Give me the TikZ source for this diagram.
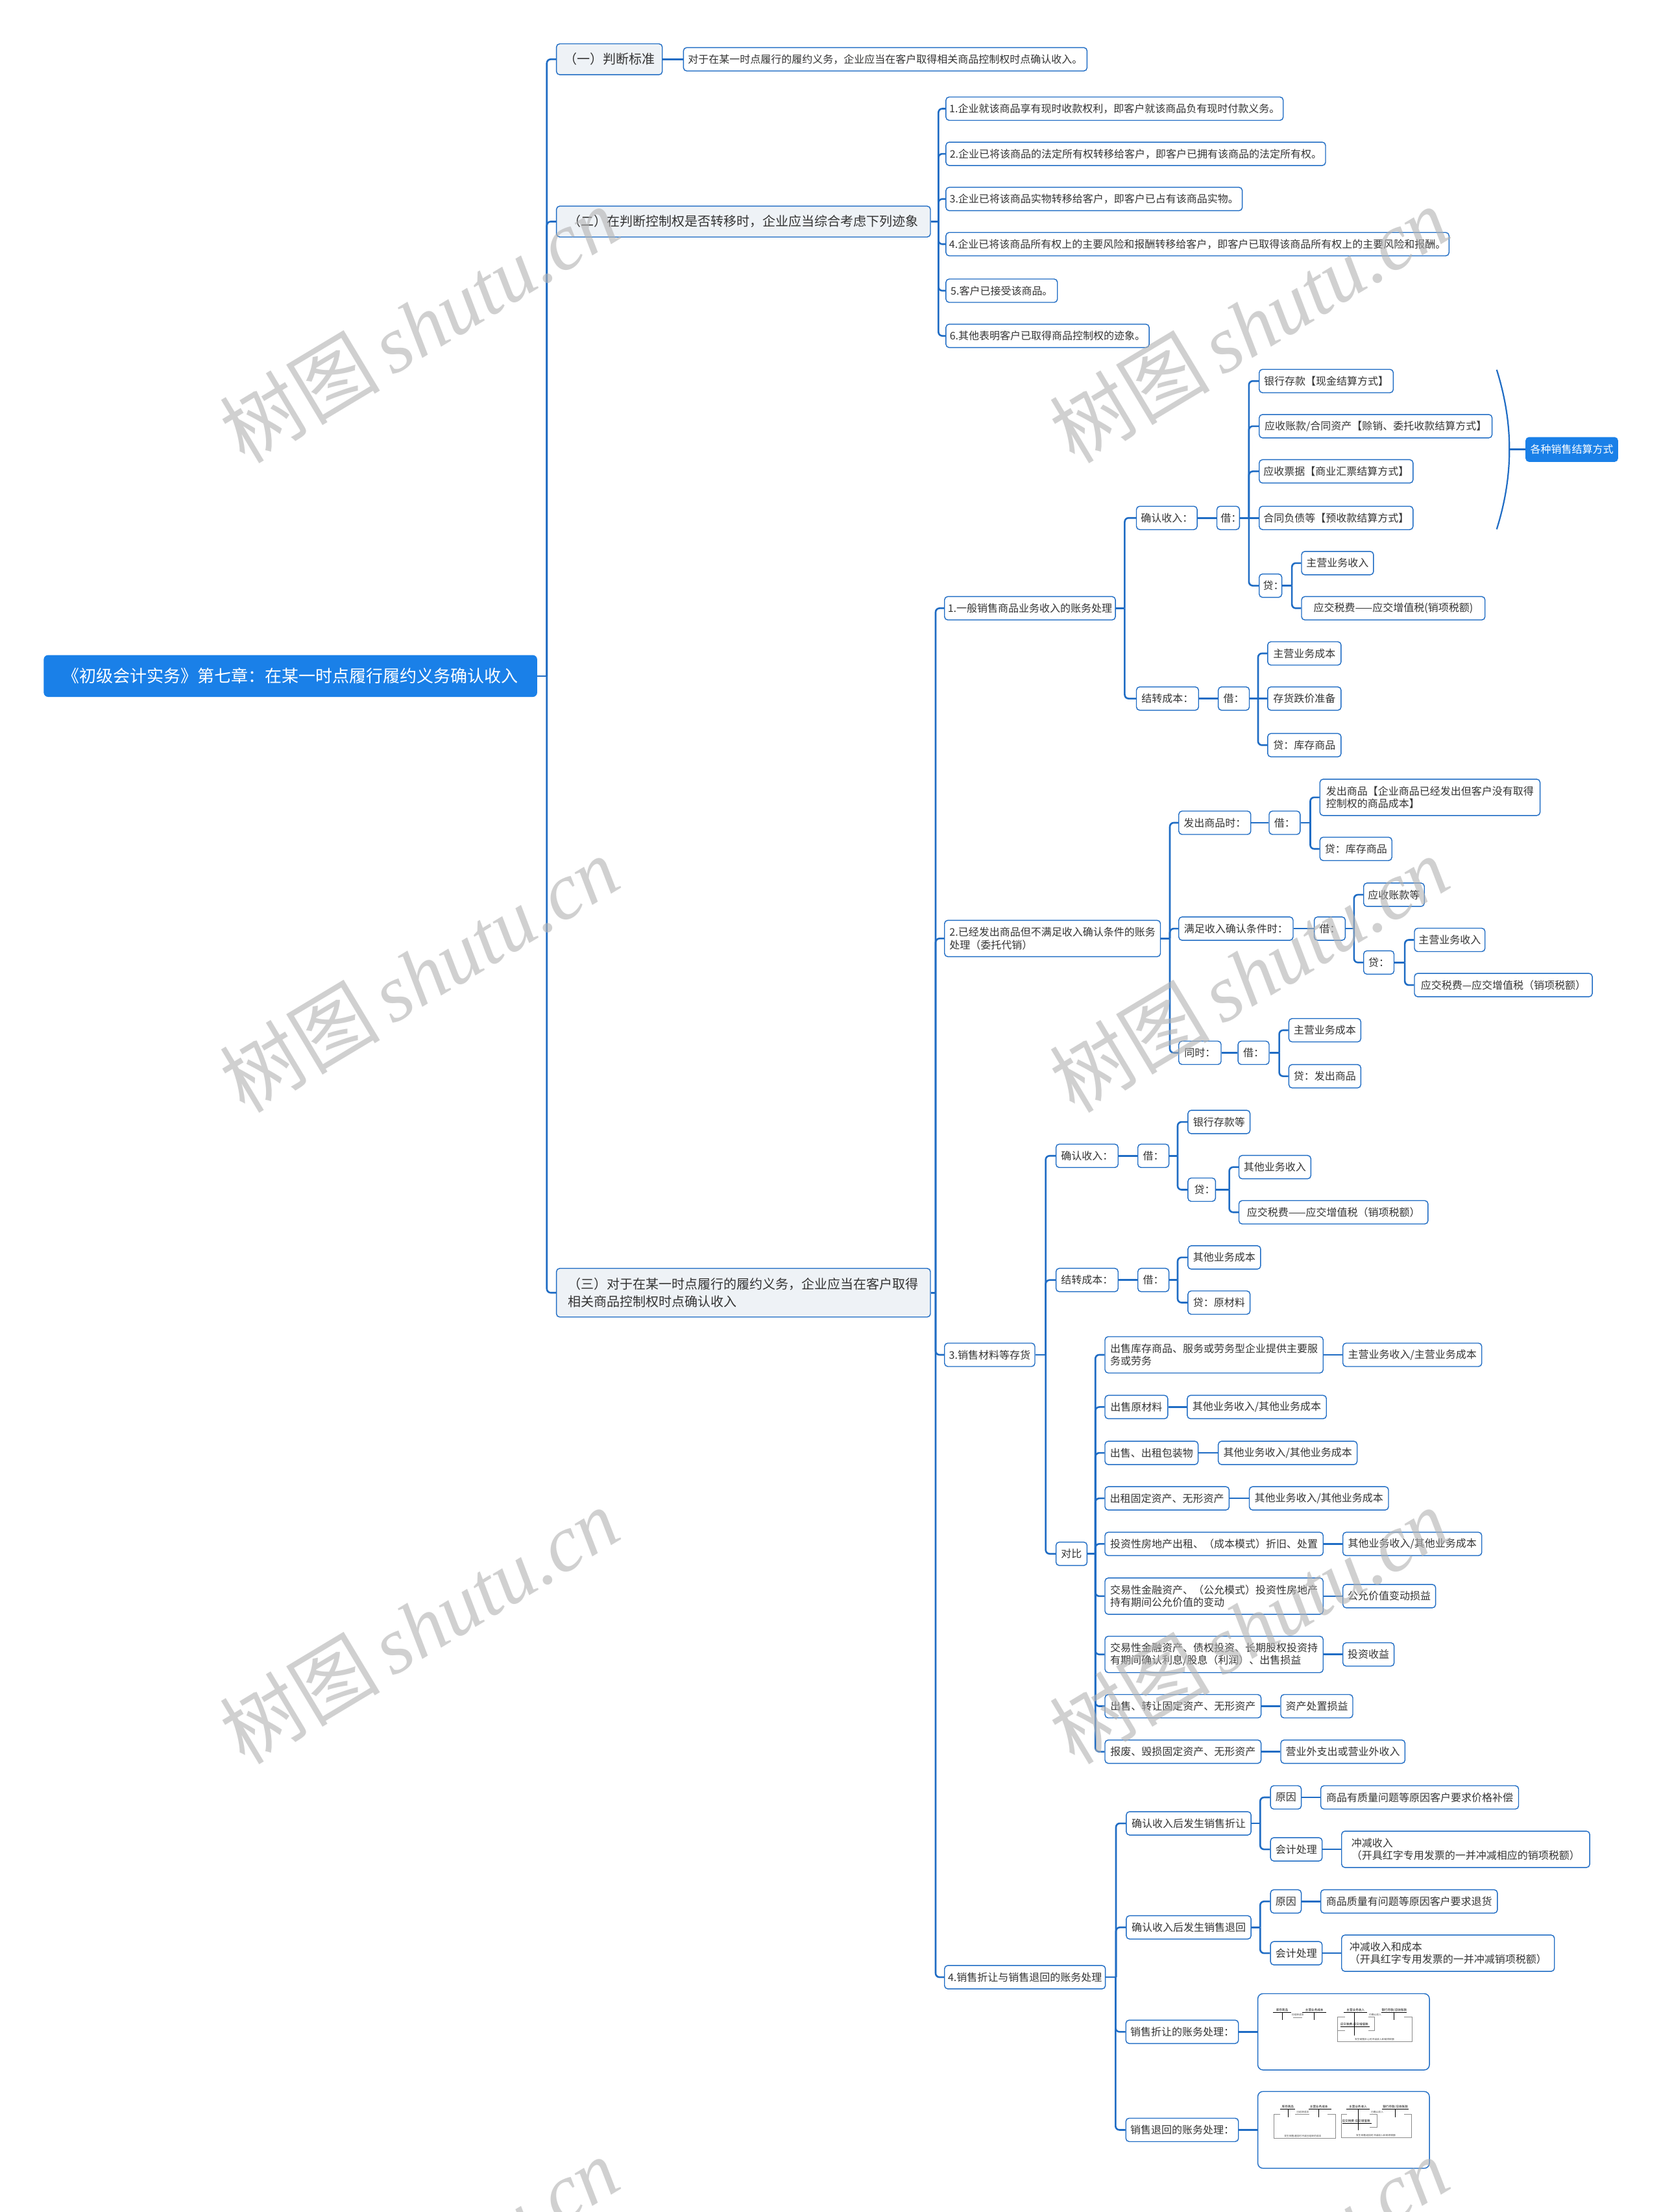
\documentclass[tikz,border=0pt]{standalone}
\usepackage{fontspec}
\newfontfamily\cjk{Noto Sans CJK SC}
\newfontfamily\wmser{Liberation Serif}
\usetikzlibrary{calc}
\definecolor{lb}{HTML}{1F6CC4}
\definecolor{rootb}{HTML}{1A80E8}
\definecolor{lfill}{HTML}{EEF2F6}
\definecolor{tx}{HTML}{333333}
\newcommand{\cln}{\makebox[0.45em][l]{：}}
\tikzset{
  bw/.style={minimum width=#1*1.0875pt},
  bx/.style={draw=lb, line width=0.7pt, rounded corners=2.5pt, fill=white, text=tx,
    font=\cjk\fontsize{8}{9.8}\selectfont, inner xsep=2.5pt, inner ysep=1pt,
    minimum height=18pt, align=left, anchor=west},
  bxx/.style={bx, minimum height=28pt},
  lone/.style={bx, fill=lfill, font=\cjk\fontsize{10}{13.7}\selectfont, minimum height=23.8pt},
  rootn/.style={bx, draw=rootb, fill=rootb, text=white, font=\cjk\fontsize{13}{15}\selectfont,
    minimum height=31.5pt, rounded corners=3pt},
  sumn/.style={bx, draw=rootb, fill=rootb, text=white, minimum height=18.5pt},
  conn/.style={draw=lb, line width=1.3pt},
  tt/.style={font=\cjk\fontsize{2.3}{2.6}\selectfont, text=black, inner sep=0pt},
  ts/.style={font=\cjk\fontsize{1.9}{2.2}\selectfont, text=black!70, inner sep=0pt},
  tl/.style={line width=0.35pt, draw=black},
  tg/.style={line width=0.3pt, draw=black!45},
  wm/.style={rotate=31, text=black!30, text opacity=0.6, inner sep=0pt, font=\fontsize{62}{62}\selectfont}
}
\newcommand{\lnk}[3][6.5]{%
  \path (#3.west) ++(-#1,0) coordinate (lk);
  \draw[conn] (#2.east) -- (#2.east -| lk);
  \draw[conn, rounded corners=3pt] (#2.east -| lk) |- (#3.west);}
\newcommand{\slnk}[2]{\draw[conn] (#1.east) -- (#1.east -| #2.west);}
\begin{document}
\begin{tikzpicture}[x=1.0875pt,y=-1.0875pt]
\fill[white] (0,0) rectangle (1177,1567.4);
\useasboundingbox (0,0) rectangle (1177,1567.4);

% root and level 1
\node[rootn, bw=349] (root) at (31,479) {《初级会计实务》第七章：在某一时点履行履约义务确认收入};
\node[lone, bw=75] (la) at (394,42) {（一）判断标准};
\node[lone, bw=265] (lb) at (394,157) {（二）在判断控制权是否转移时，企业应当综合考虑下列迹象};
\node[lone, bw=265, minimum height=37.5pt] (lc) at (394,916) {（三）对于在某一时点履行的履约义务，企业应当在客户取得\\相关商品控制权时点确认收入};

\node[bx, bw=286] (a1) at (484,42) {对于在某一时点履行的履约义务，企业应当在客户取得相关商品控制权时点确认收入。};

\node[bx, bw=239] (b1) at (670,77) {1.企业就该商品享有现时收款权利，即客户就该商品负有现时付款义务。};
\node[bx, bw=269] (b2) at (670,109) {2.企业已将该商品的法定所有权转移给客户，即客户已拥有该商品的法定所有权。};
\node[bx, bw=210] (b3) at (670,141) {3.企业已将该商品实物转移给客户，即客户已占有该商品实物。};
\node[bx, bw=356.5] (b4) at (670,173) {4.企业已将该商品所有权上的主要风险和报酬转移给客户，即客户已取得该商品所有权上的主要风险和报酬。};
\node[bx, bw=79] (b5) at (670,206) {5.客户已接受该商品。};
\node[bx, bw=144] (b6) at (670,238) {6.其他表明客户已取得商品控制权的迹象。};

% level 2 of (三)
\node[bx, bw=121] (c1) at (669,431) {1.一般销售商品业务收入的账务处理};
\node[bxx, bw=153] (c2) at (669,665) {2.已经发出商品但不满足收入确认条件的账务\\处理（委托代销）};
\node[bx, bw=64] (c3) at (669,960) {3.销售材料等存货};
\node[bx, bw=114] (c4) at (669,1401) {4.销售折让与销售退回的账务处理};

% branch 1
\node[bx, bw=43] (d1) at (805,367) {确认收入：};
\node[bx, bw=44] (d2) at (805,495) {结转成本：};
\node[bx, bw=16] (d1j) at (862,367) {借\cln};
\node[bx, bw=95] (e1) at (892,270) {银行存款【现金结算方式】};
\node[bx, bw=165] (e2) at (892,302) {应收账款/合同资产【赊销、委托收款结算方式】};
\node[bx, bw=109] (e3) at (892,334) {应收票据【商业汇票结算方式】};
\node[bx, bw=109] (e4) at (892,367) {合同负债等【预收款结算方式】};
\node[bx, bw=16] (e5) at (892,415) {贷\cln};
\node[bx, bw=51] (f1) at (922,399) {主营业务收入};
\node[bx, bw=130] (f2) at (922,431) {应交税费——应交增值税(销项税额)};
\node[sumn, bw=65] (sum) at (1081,318.5) {各种销售结算方式};
\coordinate (bt) at (1060.6,262);
\coordinate (bb) at (1060.6,375);
\coordinate (bm) at (1069.6,318.5);
\draw[conn, line width=1.1pt] (bt) .. controls (1072.6,300) and (1072.6,337) .. (bb);
\draw[conn] (bm) -- (sum.west);

\node[bx, bw=22] (d2j) at (863,495) {借：};
\node[bx, bw=52] (g1) at (898,463) {主营业务成本};
\node[bx, bw=52] (g2) at (898,495) {存货跌价准备};
\node[bx, bw=52] (g3) at (898,528) {贷：库存商品};

% branch 2
\node[bx, bw=51] (h1) at (835,583) {发出商品时：};
\node[bx, bw=22] (h1j) at (899,583) {借：};
\node[bxx, bw=156] (i1) at (935,565) {发出商品【企业商品已经发出但客户没有取得\\控制权的商品成本】};
\node[bx, bw=51] (i2) at (935,601.5) {贷：库存商品};
\node[bx, bw=81] (h2) at (835,658) {满足收入确认条件时：};
\node[bx, bw=22] (h2j) at (931,658) {借：};
\node[bx, bw=43] (j1) at (966,634) {应收账款等};
\node[bx, bw=21.5] (j2) at (966,682) {贷：};
\node[bx, bw=50] (k1) at (1002,666) {主营业务收入};
\node[bx, bw=126] (k2) at (1002,698) {应交税费—应交增值税（销项税额）};
\node[bx, bw=30] (h3) at (835,746) {同时：};
\node[bx, bw=22] (h3j) at (877,746) {借：};
\node[bx, bw=51] (l1) at (913,730) {主营业务成本};
\node[bx, bw=51] (l2) at (913,762.6) {贷：发出商品};

% branch 3
\node[bx, bw=44] (m1) at (748,819) {确认收入：};
\node[bx, bw=22] (m1j) at (806,819) {借：};
\node[bx, bw=44] (n1) at (841.5,795) {银行存款等};
\node[bx, bw=19.5] (n2) at (841.5,843) {贷\cln};
\node[bx, bw=51] (o1) at (877.6,827) {其他业务收入};
\node[bx, bw=134] (o2) at (877.6,859) {应交税费——应交增值税（销项税额）};
\node[bx, bw=44] (m2) at (748,907) {结转成本：};
\node[bx, bw=22] (m2j) at (806,907) {借：};
\node[bx, bw=51.5] (n3) at (841.5,891) {其他业务成本};
\node[bx, bw=44] (n4) at (841.5,923) {贷：原材料};
\node[bx, bw=22] (m3) at (748,1101) {对比};

\node[bxx, bw=154.6] (p1) at (782.7,960) {出售库存商品、服务或劳务型企业提供主要服\\务或劳务};
\node[bx, bw=98.4] (q1) at (951.3,960) {主营业务收入/主营业务成本};
\node[bx, bw=44.5] (p2) at (782.7,997) {出售原材料};
\node[bx, bw=98.6] (q2) at (841,997) {其他业务收入/其他业务成本};
\node[bx, bw=66] (p3) at (782.7,1029.5) {出售、出租包装物};
\node[bx, bw=98.4] (q3) at (863,1029.5) {其他业务收入/其他业务成本};
\node[bx, bw=88] (p4) at (782.7,1061.7) {出租固定资产、无形资产};
\node[bx, bw=98.6] (q4) at (885,1061.7) {其他业务收入/其他业务成本};
\node[bx, bw=154.6] (p5) at (782.7,1094) {投资性房地产出租、（成本模式）折旧、处置};
\node[bx, bw=98.4] (q5) at (951.3,1094) {其他业务收入/其他业务成本};
\node[bxx, bw=154.6] (p6) at (782.7,1131) {交易性金融资产、（公允模式）投资性房地产\\持有期间公允价值的变动};
\node[bx, bw=65.7] (q6) at (951.3,1131) {公允价值变动损益};
\node[bxx, bw=154.6] (p7) at (782.7,1172.3) {交易性金融资产、债权投资、长期股权投资持\\有期间确认利息/股息（利润）、出售损益};
\node[bx, bw=36.3] (q7) at (951.3,1172.3) {投资收益};
\node[bx, bw=110.6] (p8) at (782.7,1209) {出售、转让固定资产、无形资产};
\node[bx, bw=51] (q8) at (907.3,1209) {资产处置损益};
\node[bx, bw=110.6] (p9) at (782.7,1241.2) {报废、毁损固定资产、无形资产};
\node[bx, bw=88] (q9) at (907.3,1241.2) {营业外支出或营业外收入};

% branch 4
\node[bx, bw=88.4] (r1) at (797.8,1292) {确认收入后发生销售折让};
\node[bx, bw=21.8] (s1) at (900,1273.6) {原因};
\node[bx, bw=140.2] (t1) at (935.6,1273.6) {商品有质量问题等原因客户要求价格补偿};
\node[bx, bw=36.6] (s2) at (900,1310.4) {会计处理};
\node[bxx, bw=175.8] (t2) at (950.4,1310.4) {冲减收入\\（开具红字专用发票的一并冲减相应的销项税额）};
\node[bx, bw=88.4] (r2) at (797.8,1365.7) {确认收入后发生销售退回};
\node[bx, bw=21.8] (s3) at (900,1347.3) {原因};
\node[bx, bw=125.2] (t3) at (935.6,1347.3) {商品质量有问题等原因客户要求退货};
\node[bx, bw=36.6] (s4) at (900,1384) {会计处理};
\node[bxx, bw=150.8] (t4) at (950.4,1384) {冲减收入和成本\\（开具红字专用发票的一并冲减销项税额）};
\node[bx, bw=79.8] (r3) at (797.5,1439.7) {销售折让的账务处理：};
\node[bx, bw=121.6, minimum height=58.8pt, rounded corners=4pt] (img1) at (891,1439.7) {};
\node[bx, bw=79.8] (r4) at (797.5,1509.2) {销售退回的账务处理：};
\node[bx, bw=121.6, minimum height=59.2pt, rounded corners=4pt] (img2) at (891,1509.2) {};

% thumbnail 1
\node[tt] (k1a) at (908.5,1424.2) {库存商品};
\draw[tl] (902,1426)--(915,1426) (908.5,1426)--(908.5,1431.4);
\node[tt] (k1b) at (931.4,1424.2) {主营业务成本};
\draw[tl] (923,1426)--(940,1426) (931.4,1426)--(931.4,1431.4);
\node[ts] (k1c) at (919.6,1427.8) {已结转成本};
\draw[tg] (916.5,1429.4)--(923,1429.4);
\node[tt] (k1d) at (960.6,1424.2) {主营业务收入};
\draw[tl] (952.4,1426)--(968.8,1426) (959.7,1426)--(959.7,1442.2);
\node[tt] (k1e) at (988,1424.2) {银行存款/应收账款};
\draw[tl] (978.7,1426)--(997,1426) (987.6,1426)--(987.6,1431.4);
\node[ts] (k1f) at (974.5,1427.8) {已确认收入};
\node[tt] (k1g) at (959.7,1434.6) {应交税费-应交增值税};
\draw[tl] (949.9,1436)--(970.4,1436);
\draw[tg] (953.2,1429)--(947.8,1429)--(947.8,1446.7)--(1000.8,1446.7)--(1000.8,1429)--(995,1429);
\draw[tg] (947.8,1438.8)--(953.2,1438.8);
\draw[tg] (969.6,1429)--(973.8,1429)--(973.8,1438.8)--(969.6,1438.8);
\node[ts] (k1h) at (974,1445.2) {发生销售折让时冲减收入和销项税额};

% thumbnail 2
\node[tt] (k2a) at (912.6,1493) {库存商品};
\draw[tl] (907.2,1494.6)--(917.9,1494.6) (912.6,1494.6)--(912.6,1500.1);
\node[tt] (k2b) at (934.6,1493) {主营业务成本};
\draw[tl] (927.4,1494.6)--(943.4,1494.6) (934.6,1494.6)--(934.6,1500.1);
\node[ts] (k2c) at (923.2,1496.6) {已结转成本};
\draw[tg] (917.9,1498.1)--(927.8,1498.1);
\draw[tg] (907.2,1498.1)--(902.6,1498.1)--(902.6,1515)--(946.2,1515)--(946.2,1498.1)--(940.6,1498.1);
\node[ts] (k2d) at (923.2,1513.4) {发生销售退回时冲减已结转的成本};
\node[tt] (k2e) at (962.3,1493) {主营业务收入};
\draw[tl] (954,1494.6)--(970.4,1494.6) (962.3,1494.6)--(962.3,1509.6);
\node[tt] (k2f) at (988.8,1493) {银行存款/应收账款};
\draw[tl] (979.5,1494.6)--(998.4,1494.6) (988.8,1494.6)--(988.8,1500.1);
\node[ts] (k2g) at (975.9,1496.6) {已确认收入};
\node[tt] (k2h) at (961,1503) {应交税费-应交增值税};
\draw[tl] (951.4,1504.5)--(972.1,1504.5);
\draw[tg] (954.6,1498.1)--(950.3,1498.1)--(950.3,1514.7)--(1000.3,1514.7)--(1000.3,1498.1)--(994.8,1498.1);
\draw[tg] (970.4,1498.1)--(975.9,1498.1)--(975.9,1507.3)--(970.4,1507.3);
\node[ts] (k2i) at (975,1513) {发生销售退回时冲减收入和销项税额};

% connectors
\lnk{root}{la} \lnk{root}{lb} \lnk{root}{lc}
\slnk{la}{a1}
\lnk[5]{lb}{b1} \lnk[5]{lb}{b2} \lnk[5]{lb}{b3} \lnk[5]{lb}{b4} \lnk[5]{lb}{b5} \lnk[5]{lb}{b6}
\lnk[6]{lc}{c1} \lnk[6]{lc}{c2} \lnk[6]{lc}{c3} \lnk[6]{lc}{c4}
\lnk[8]{c1}{d1} \lnk[8]{c1}{d2}
\slnk{d1}{d1j}
\lnk[7]{d1j}{e1} \lnk[7]{d1j}{e2} \lnk[7]{d1j}{e3} \slnk{d1j}{e4} \lnk[7]{d1j}{e5}
\lnk{e5}{f1} \lnk{e5}{f2}
\slnk{d2}{d2j}
\lnk{d2j}{g1} \slnk{d2j}{g2} \lnk{d2j}{g3}
\lnk[6]{c2}{h1} \lnk[6]{c2}{h2} \lnk[6]{c2}{h3}
\slnk{h1}{h1j} \lnk{h1j}{i1} \lnk{h1j}{i2}
\slnk{h2}{h2j} \lnk{h2j}{j1} \lnk{h2j}{j2} \lnk{j2}{k1} \lnk{j2}{k2}
\slnk{h3}{h3j} \lnk{h3j}{l1} \lnk{h3j}{l2}
\lnk[7]{c3}{m1} \lnk[7]{c3}{m2} \lnk[7]{c3}{m3}
\slnk{m1}{m1j} \lnk[7]{m1j}{n1} \lnk[7]{m1j}{n2} \lnk{n2}{o1} \lnk{n2}{o2}
\slnk{m2}{m2j} \lnk[7]{m2j}{n3} \lnk[7]{m2j}{n4}
\lnk{m3}{p1} \lnk{m3}{p2} \lnk{m3}{p3} \lnk{m3}{p4} \lnk{m3}{p5} \lnk{m3}{p6} \lnk{m3}{p7} \lnk{m3}{p8} \lnk{m3}{p9}
\slnk{p1}{q1} \slnk{p2}{q2} \slnk{p3}{q3} \slnk{p4}{q4} \slnk{p5}{q5} \slnk{p6}{q6} \slnk{p7}{q7} \slnk{p8}{q8} \slnk{p9}{q9}
\lnk[7]{c4}{r1} \lnk[7]{c4}{r2} \lnk[7]{c4}{r3} \lnk[7]{c4}{r4}
\lnk[7]{r1}{s1} \lnk[7]{r1}{s2} \slnk{s1}{t1} \slnk{s2}{t2}
\lnk[7]{r2}{s3} \lnk[7]{r2}{s4} \slnk{s3}{t3} \slnk{s4}{t4}
\slnk{r3}{img1} \slnk{r4}{img2}

% watermarks
\foreach \wx/\wy [count=\i] in {297/230, 885/230, 297/690, 885/690, 297/1152, 885/1152, 297/1612, 885/1612}
  \node[wm] (wm\i) at (\wx,\wy) {{\cjk 树图}\hspace{0.15em}{\wmser\itshape shutu.cn}};
\end{tikzpicture}
\end{document}
